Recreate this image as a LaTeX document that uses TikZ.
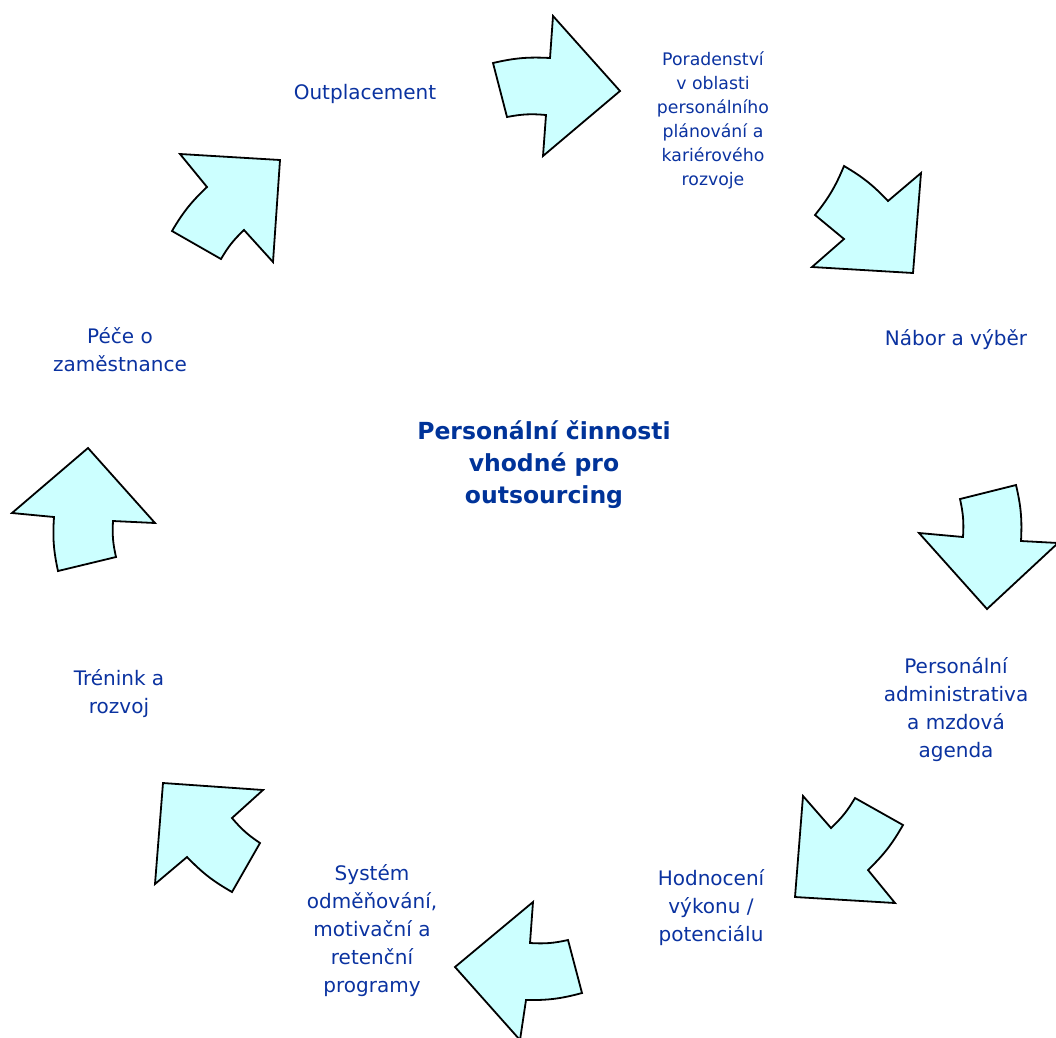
\documentclass[tikz,border=0pt]{standalone}
\usepackage{fontspec}
\setmainfont{DejaVu Sans}
\definecolor{txtblue}{RGB}{10,50,160}
\definecolor{ttlblue}{RGB}{0,51,153}
\definecolor{arrfill}{RGB}{204,255,255}
\begin{document}
\begin{tikzpicture}[x=1pt,y=1pt,
  arr/.style={draw=black, fill=arrfill, line width=1.8pt, line join=miter},
  lbl/.style={text=txtblue, align=center, font=\fontsize{20}{28}\selectfont, inner sep=0pt},
  smalllbl/.style={text=txtblue, align=center, font=\fontsize{17.3}{24}\selectfont, inner sep=0pt},
  ttl/.style={text=ttlblue, align=center, font=\bfseries\fontsize{23.5}{32}\selectfont, inner sep=0pt},
  bl/.style={bend left=8}, br/.style={bend right=8}]
\useasboundingbox (0,0) rectangle (1056,-1037);
% arrows
\draw[arr] (507,-117) -- (493,-63) to[bl] (550,-58) -- (553,-16) -- (620,-91) -- (543,-156) -- (546,-115) to[br] (507,-117) -- cycle;
\draw[arr] (844,-239) -- (815,-215) to[br] (844,-166) to[bl] (888,-201) -- (921,-173) -- (913,-273) -- (812,-267) -- cycle;
\draw[arr] (960,-499) -- (1016,-485) to[bl] (1021,-541) -- (1058,-543) -- (987,-609) -- (919,-533) -- (963,-537) to[br] (960,-499) -- cycle;
\draw[arr] (855,-798) -- (903,-825) to[bl] (868,-870) -- (895,-903) -- (795,-897) -- (803,-796) -- (831,-828) to[br] (855,-798) -- cycle;
\draw[arr] (568,-940) -- (582,-993) to[bl] (526,-1000) -- (520,-1040) -- (455,-967) -- (533,-902) -- (530,-943) to[br] (568,-940) -- cycle;
\draw[arr] (260,-843) -- (232,-892) to[bl] (187,-857) -- (155,-884) -- (163,-783) -- (263,-790) -- (232,-818) to[br] (260,-843) -- cycle;
\draw[arr] (116,-557) -- (58,-571) to[bl] (54,-517) -- (12,-513) -- (88,-448) -- (155,-523) -- (113,-521) to[br] (116,-557) -- cycle;
\draw[arr] (221,-259) -- (172,-231) to[bl] (207,-187) -- (180,-154) -- (280,-160) -- (273,-262) -- (244,-230) to[br] (221,-259) -- cycle;
% labels
\node[ttl] (title) at (544,-465) {Personální činnosti\\vhodné pro\\outsourcing};
\node[lbl] (outpl) at (365,-94) {Outplacement};
\node[smalllbl] (porad) at (713,-120) {Poradenství\\v oblasti\\personálního\\plánování a\\kariérového\\rozvoje};
\node[lbl] (nabor) at (956,-340) {Nábor a výběr};
\node[lbl] (admin) at (956,-710) {Personální\\administrativa\\a mzdová\\agenda};
\node[lbl] (hodn) at (711,-908) {Hodnocení\\výkonu /\\potenciálu};
\node[lbl] (system) at (372,-931) {Systém\\odměňování,\\motivační a\\retenční\\programy};
\node[lbl] (trenink) at (119,-694) {Trénink a\\rozvoj};
\node[lbl] (pece) at (120,-350) {Péče o\\zaměstnance};
\end{tikzpicture}
\end{document}
